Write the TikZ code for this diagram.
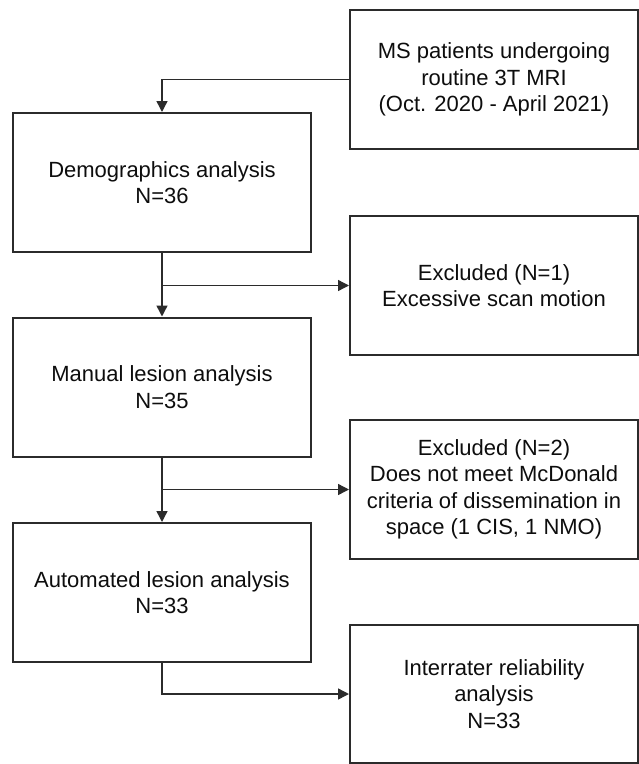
\documentclass[tikz,border=0pt]{standalone}
\usepackage{fontspec}
\setmainfont{Liberation Sans}
\usetikzlibrary{arrows.meta}
\definecolor{edge}{HTML}{2B2B2B}
\definecolor{ink}{HTML}{0D0D0D}
\begin{document}
\begin{tikzpicture}[x=1pt,y=-1pt,
  lbox/.style={draw=edge, line width=2pt, minimum width=298pt, minimum height=139pt,
    inner sep=0pt, align=center, text=ink, font=\fontsize{22}{26.5}\selectfont},
  rbox/.style={lbox, minimum width=288pt},
  arr/.style={draw=edge, line width=1.4pt, -{Triangle[length=11pt,width=11pt]}},
  seg/.style={draw=edge, line width=1.4pt}]
\useasboundingbox (0,0) rectangle (639,764);
\node[rbox] (ms) at (494,79.5) {MS patients undergoing\\routine 3T MRI\\(Oct. 2020 - April 2021)};
\node[lbox] (demo) at (162,182.5) {Demographics analysis\\N=36};
\node[rbox] (ex1) at (494,285.5) {Excluded (N=1)\\Excessive scan motion};
\node[lbox] (man) at (162,387) {Manual lesion analysis\\N=35};
\node[rbox] (ex2) at (494,489.5) {Excluded (N=2)\\Does not meet McDonald\\criteria of dissemination in\\space (1 CIS, 1 NMO)};
\node[lbox] (auto) at (162,592.5) {Automated lesion analysis\\N=33};
\node[rbox, minimum height=138pt] (irr) at (494,694) {Interrater reliability\\analysis\\N=33};
\coordinate (b1) at (demo.south |- ex1.west);
\coordinate (b2) at (man.south |- ex2.west);
\draw[arr] (ms.west) -| (demo.north);
\draw[arr] (demo.south) -- (man.north);
\draw[arr] (b1) -- (ex1.west);
\draw[arr] (man.south) -- (auto.north);
\draw[arr] (b2) -- (ex2.west);
\draw[arr] (auto.south) |- (irr.west);
\end{tikzpicture}
\end{document}
